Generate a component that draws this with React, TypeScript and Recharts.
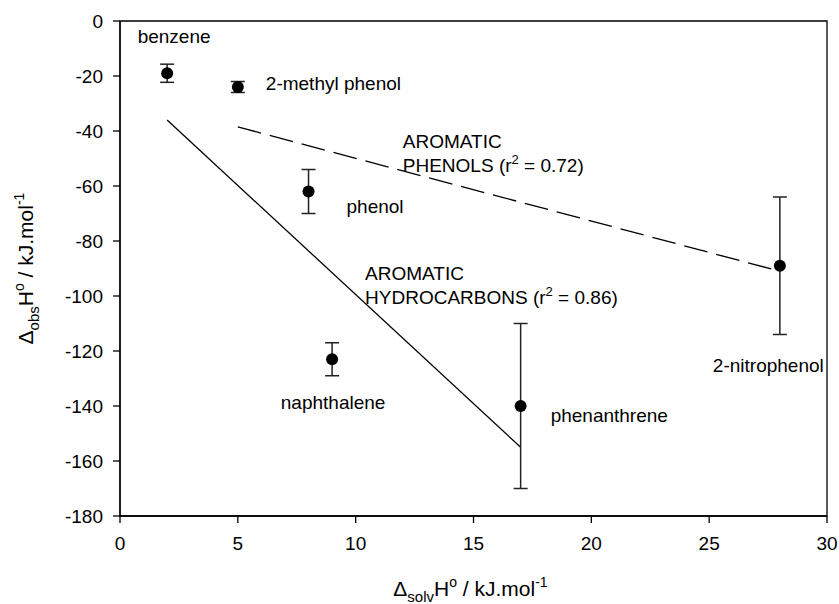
import React from 'react';
import {
  ComposedChart,
  Scatter,
  Line,
  XAxis,
  YAxis,
  ErrorBar,
  ReferenceArea,
  ReferenceDot,
} from 'recharts';

// Compounds: solvation enthalpy vs observed enthalpy (kJ/mol) with error estimates
const compounds = ['benzene', '2-methyl phenol', 'phenol', 'naphthalene', 'phenanthrene', '2-nitrophenol'];
const solvEnthalpy = [2, 5, 8, 9, 17, 28];
const obsEnthalpy = [-19, -24, -62, -123, -140, -89];
const obsError = [3.3, 2, 8, 6, 30, 25];

// Regression lines
const hydrocarbonFitX = [2, 17];
const hydrocarbonFitY = [-36, -155];
const phenolFitX = [5, 28];
const phenolFitY = [-38.5, -91];

const xTicks = [0, 5, 10, 15, 20, 25, 30];
const yTicks = [0, -20, -40, -60, -80, -100, -120, -140, -160, -180];

const points = compounds.map((name, i) => ({
  name,
  x: solvEnthalpy[i],
  y: obsEnthalpy[i],
  err: obsError[i],
}));
const hydrocarbonFit = hydrocarbonFitX.map((x, i) => ({ x, y: hydrocarbonFitY[i] }));
const phenolFit = phenolFitX.map((x, i) => ({ x, y: phenolFitY[i] }));

// Where each compound's name sits relative to its marker (pixels)
const labelPlacement: Record<string, { dx: number; dy: number; anchor: 'start' | 'middle' | 'end' }> = {
  benzene: { dx: 7, dy: -37, anchor: 'middle' },
  '2-methyl phenol': { dx: 28, dy: -4, anchor: 'start' },
  phenol: { dx: 38, dy: 15, anchor: 'start' },
  naphthalene: { dx: 1, dy: 43, anchor: 'middle' },
  phenanthrene: { dx: 30, dy: 9, anchor: 'start' },
  '2-nitrophenol': { dx: -67, dy: 100, anchor: 'start' },
};

const FONT = '"Liberation Sans", Arial, Helvetica, sans-serif';
const LABEL_SIZE = 19;

const PointWithLabel = (props: any) => {
  const { cx, cy, payload } = props;
  if (cx == null || cy == null) return null;
  const place = labelPlacement[payload.name] || { dx: 10, dy: 0, anchor: 'start' };
  return (
    <g>
      <circle cx={cx} cy={cy} r={6} fill="#000" />
      <text
        x={cx + place.dx}
        y={cy + place.dy}
        dy="0.35em"
        textAnchor={place.anchor}
        fontSize={LABEL_SIZE}
        fontFamily={FONT}
        fill="#000"
      >
        {payload.name}
      </text>
    </g>
  );
};

const fitAnnotation = (second: string, r2: string) => (p: any) => {
  const { cx, cy } = p;
  return (
    <text x={cx} y={cy} fontSize={LABEL_SIZE} fontFamily={FONT} fill="#000">
      <tspan x={cx} dy="0.35em">AROMATIC</tspan>
      <tspan x={cx} dy="24">{second} (r</tspan>
      <tspan fontSize={13} dy="-8">2</tspan>
      <tspan dy="8"> = {r2})</tspan>
    </text>
  );
};

const XTitle = (props: any) => {
  const vb = props.viewBox || {};
  const cx = vb.x + vb.width / 2;
  const y = vb.y + 80;
  return (
    <text x={cx - 3} y={y} textAnchor="middle" fontSize={21} fontFamily={FONT} fill="#000">
      <tspan>Δ</tspan>
      <tspan fontSize={15} dy="6">solv</tspan>
      <tspan dy="-6">H</tspan>
      <tspan fontSize={14} dy="-9">o</tspan>
      <tspan dy="9"> / kJ.mol</tspan>
      <tspan fontSize={14} dy="-9">-1</tspan>
    </text>
  );
};

const YTitle = (props: any) => {
  const vb = props.viewBox || {};
  const cy = vb.y + vb.height / 2;
  return (
    <text
      transform={`translate(33, ${cy}) rotate(-90)`}
      x={0}
      y={0}
      textAnchor="middle"
      fontSize={21}
      fontFamily={FONT}
      fill="#000"
    >
      <tspan>Δ</tspan>
      <tspan fontSize={15} dy="6">obs</tspan>
      <tspan dy="-6">H</tspan>
      <tspan fontSize={14} dy="-9">o</tspan>
      <tspan dy="9"> / kJ.mol</tspan>
      <tspan fontSize={14} dy="-9">-1</tspan>
    </text>
  );
};

const tickStyle = { fill: '#000', fontSize: LABEL_SIZE, fontFamily: FONT };

export default function App() {
  return (
    <div style={{ position: 'absolute', left: 0, top: 0 }}>
      <ComposedChart
        width={839}
        height={604}
        margin={{ top: 21, right: 12, bottom: 0, left: 0 }}
        style={{ fontFamily: FONT }}
      >
        <XAxis
          type="number"
          dataKey="x"
          domain={[0, 30]}
          ticks={xTicks}
          allowDataOverflow
          height={88}
          tick={tickStyle}
          tickSize={7}
          tickMargin={14}
          axisLine={{ stroke: '#000', strokeWidth: 1.3 }}
          tickLine={{ stroke: '#000', strokeWidth: 1.3 }}
          label={{ content: <XTitle /> }}
        />
        <YAxis
          type="number"
          dataKey="y"
          domain={[-180, 0]}
          ticks={yTicks}
          allowDataOverflow
          width={120}
          tick={tickStyle}
          tickSize={7}
          tickMargin={10}
          axisLine={{ stroke: '#000', strokeWidth: 1.3 }}
          tickLine={{ stroke: '#000', strokeWidth: 1.3 }}
          label={{ content: <YTitle /> }}
        />
        <ReferenceArea
          x1={0}
          x2={30}
          y1={-180}
          y2={0}
          fill="none"
          fillOpacity={0}
          stroke="#000"
          strokeWidth={1.3}
        />
        <Line
          data={hydrocarbonFit}
          dataKey="y"
          type="linear"
          stroke="#000"
          strokeWidth={1.3}
          dot={false}
          activeDot={false}
          isAnimationActive={false}
        />
        <Line
          data={phenolFit}
          dataKey="y"
          type="linear"
          stroke="#000"
          strokeWidth={1.3}
          strokeDasharray="24 9"
          dot={false}
          activeDot={false}
          isAnimationActive={false}
        />
        <Scatter data={points} dataKey="y" shape={<PointWithLabel />} isAnimationActive={false}>
          <ErrorBar dataKey="err" direction="y" width={7} stroke="#222" strokeWidth={1.5} />
        </Scatter>
        <ReferenceDot
          x={12}
          y={-43.6}
          r={0}
          ifOverflow="visible"
          shape={fitAnnotation('PHENOLS', '0.72')}
        />
        <ReferenceDot
          x={10.4}
          y={-91.6}
          r={0}
          ifOverflow="visible"
          shape={fitAnnotation('HYDROCARBONS', '0.86')}
        />
      </ComposedChart>
    </div>
  );
}
